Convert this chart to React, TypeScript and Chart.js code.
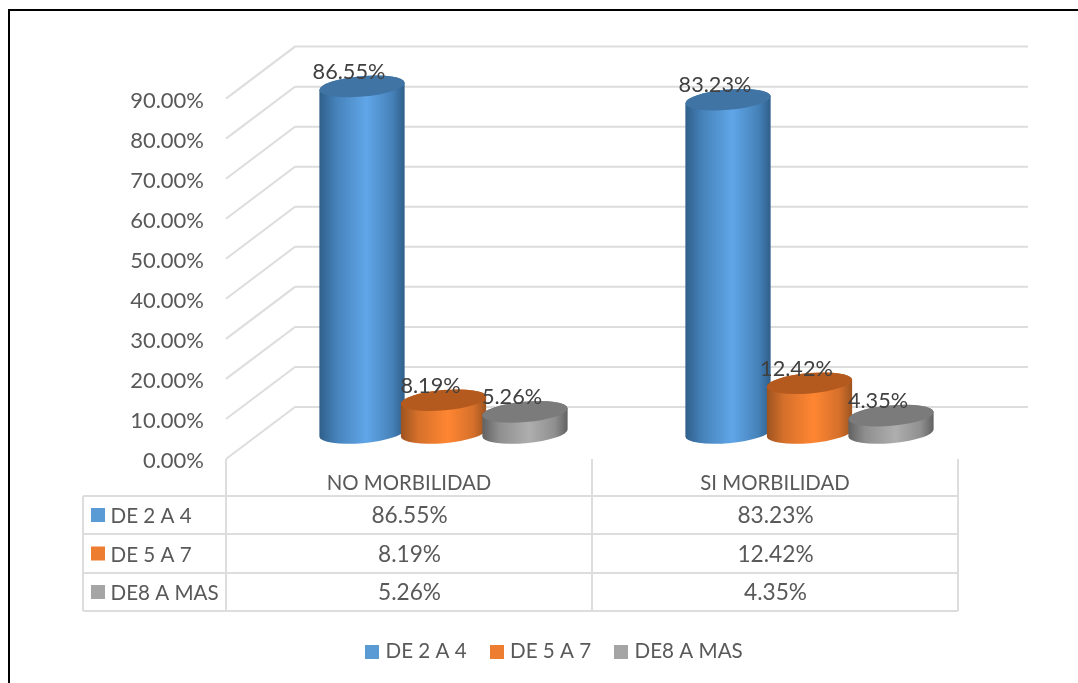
import React, { useEffect, useRef } from "react";
import { Chart, registerables } from "chart.js";

Chart.register(...registerables);

const categories = ["NO MORBILIDAD", "SI MORBILIDAD"];
const seriesNames = ["DE 2 A 4", "DE 5 A 7", "DE8 A MAS"];
const deDosACuatro = [86.55, 83.23];
const deCincoASiete = [8.19, 12.42];
const deOchoAMas = [5.26, 4.35];
const seriesValues = [deDosACuatro, deCincoASiete, deOchoAMas];

const swatchColors = ["#5b9bd5", "#ed7d31", "#a5a5a5"];
const sideEdgeColors = ["#2f5f8a", "#9c5320", "#616161"];
const sideMidColors = ["#4682ba", "#d5702b", "#8f8f8f"];
const sideCenterColors = ["#60a6e8", "#ff8632", "#aeaeae"];
const capColors = ["#4074a4", "#b55a1f", "#7b7b7b"];

const FONT = "Lato, 'Noto Sans', sans-serif";
const GRID = "#dddddd";
const TEXT = "#595959";
const CANVAS_W = 1078;
const CANVAS_H = 683;

// Depth of the pseudo-3D floor: the back wall sits this far from the front plane.
const DEPTH_X = 69;
const DEPTH_Y = -52;
const WALL_RIGHT = 1028;
const CAP_RY = 10.2;
const CAP_TILT = (-5 * Math.PI) / 180;

// Data table under the plot.
const TABLE_LEFT = 83;
const TABLE_ROWS = [496, 534, 573, 611];
const LINE_W = 2;

// Left edge of the box the legend is centred in.
const LEGEND_LEFT = 154;

const pct = (v: number) => v.toFixed(2) + "%";

function swatch(color: string) {
  const c = document.createElement("canvas");
  c.width = 14;
  c.height = 14;
  const g = c.getContext("2d")!;
  g.fillStyle = color;
  g.fillRect(0, 0, 14, 14);
  return c;
}

function drawCylinder(ctx: CanvasRenderingContext2D, el: any, i: number) {
  const x = el.x + DEPTH_X / 2;
  const top = el.y + DEPTH_Y / 2;
  const base = el.base + DEPTH_Y / 2;
  const rx = el.width / 2;
  const grad = ctx.createLinearGradient(x - rx, 0, x + rx, 0);
  grad.addColorStop(0, sideEdgeColors[i]);
  grad.addColorStop(0.2, sideMidColors[i]);
  grad.addColorStop(0.55, sideCenterColors[i]);
  grad.addColorStop(0.85, sideMidColors[i]);
  grad.addColorStop(1, sideEdgeColors[i]);
  ctx.beginPath();
  ctx.ellipse(x, base, rx, CAP_RY, CAP_TILT, 0, Math.PI, false);
  ctx.ellipse(x, top, rx, CAP_RY, CAP_TILT, Math.PI, 2 * Math.PI, false);
  ctx.closePath();
  ctx.fillStyle = grad;
  ctx.fill();
  ctx.beginPath();
  ctx.ellipse(x, top, rx, CAP_RY, CAP_TILT, 0, 2 * Math.PI);
  ctx.fillStyle = capColors[i];
  ctx.fill();
}

const framePlugin = {
  id: "frame",
  beforeDraw(chart: any) {
    const { ctx } = chart;
    ctx.save();
    ctx.fillStyle = "#ffffff";
    ctx.fillRect(0, 0, CANVAS_W, CANVAS_H);
    ctx.strokeStyle = "#000000";
    ctx.lineWidth = 2;
    ctx.beginPath();
    ctx.moveTo(9, CANVAS_H);
    ctx.lineTo(9, 10);
    ctx.lineTo(CANVAS_W, 10);
    ctx.stroke();
    ctx.restore();
  },
};

const legendShiftPlugin = {
  id: "legendShift",
  afterLayout(chart: any) {
    chart.legend.left = LEGEND_LEFT;
  },
};

const wallPlugin = {
  id: "wall",
  beforeDatasetsDraw(chart: any) {
    const { ctx, chartArea, scales } = chart;
    ctx.save();
    ctx.strokeStyle = GRID;
    ctx.lineWidth = LINE_W;
    for (const t of scales.y.ticks) {
      const y = scales.y.getPixelForValue(t.value);
      ctx.beginPath();
      ctx.moveTo(chartArea.left, y);
      ctx.lineTo(chartArea.left + DEPTH_X, y + DEPTH_Y);
      ctx.lineTo(WALL_RIGHT, y + DEPTH_Y);
      ctx.stroke();
    }
    ctx.restore();
  },
};

const dataTablePlugin = {
  id: "dataTable",
  afterDatasetsDraw(chart: any) {
    const { ctx, chartArea, scales } = chart;
    const mid = (chartArea.left + chartArea.right) / 2;
    ctx.save();
    ctx.strokeStyle = GRID;
    ctx.lineWidth = LINE_W;
    ctx.beginPath();
    for (const y of TABLE_ROWS) {
      ctx.moveTo(TABLE_LEFT, y);
      ctx.lineTo(chartArea.right, y);
    }
    ctx.moveTo(TABLE_LEFT, TABLE_ROWS[0]);
    ctx.lineTo(TABLE_LEFT, TABLE_ROWS[3]);
    for (const x of [chartArea.left, mid, chartArea.right]) {
      ctx.moveTo(x, chartArea.bottom);
      ctx.lineTo(x, TABLE_ROWS[3]);
    }
    ctx.stroke();

    ctx.textBaseline = "middle";
    seriesNames.forEach((name, i) => {
      const cy = (TABLE_ROWS[i] + TABLE_ROWS[i + 1]) / 2;
      ctx.fillStyle = swatchColors[i];
      ctx.fillRect(91, cy - 7, 14, 14);
      ctx.fillStyle = TEXT;
      ctx.textAlign = "left";
      ctx.font = `20.6px ${FONT}`;
      ctx.fillText(name, 110.5, cy + 1.5);
      ctx.textAlign = "center";
      ctx.font = `22.7px ${FONT}`;
      categories.forEach((_, c) => {
        ctx.fillText(pct(seriesValues[i][c]), scales.x.getPixelForValue(c) + 0.5, cy + 1);
      });
    });
    ctx.restore();
  },
};

const cylinderPlugin = {
  id: "cylinders",
  // The flat bars are replaced by cylinders drawn from the same bar elements.
  beforeDatasetDraw() {
    return false;
  },
  afterDatasetsDraw(chart: any) {
    const { ctx } = chart;
    ctx.save();
    for (let c = 0; c < categories.length; c++) {
      seriesNames.forEach((_, i) => {
        drawCylinder(ctx, chart.getDatasetMeta(i).data[c], i);
      });
    }
    ctx.font = `21.7px ${FONT}`;
    ctx.fillStyle = "#404040";
    ctx.textAlign = "center";
    ctx.textBaseline = "middle";
    seriesNames.forEach((_, i) => {
      chart.getDatasetMeta(i).data.forEach((el: any, c: number) => {
        ctx.fillText(
          pct(seriesValues[i][c]),
          el.x + DEPTH_X / 2 - 13,
          el.y + DEPTH_Y / 2 - 14.5
        );
      });
    });
    ctx.restore();
  },
};

export default function App() {
  const ref = useRef<HTMLCanvasElement>(null);

  useEffect(() => {
    const swatches = swatchColors.map(swatch);
    const paddingBottom = 11;
    const chart = new Chart(ref.current!, {
      type: "bar",
      data: {
        labels: categories,
        datasets: seriesNames.map((name, i) => ({
          label: name,
          data: seriesValues[i],
          backgroundColor: swatchColors[i],
          categoryPercentage: 0.668,
          barPercentage: 1.05,
        })),
      },
      options: {
        responsive: false,
        animation: false,
        layout: {
          padding: { left: 110, right: 120, top: 98.6, bottom: paddingBottom },
        },
        scales: {
          x: {
            grid: { display: false, drawTicks: false },
            border: { display: false },
            ticks: {
              color: TEXT,
              font: { family: FONT, size: 20.4 },
              padding: 12.5,
              maxRotation: 0,
            },
            afterFit(scale: any) {
              const legendH = scale.chart.legend ? scale.chart.legend.height : 0;
              scale.height = CANVAS_H - paddingBottom - legendH - 459;
            },
          },
          y: {
            min: 0,
            max: 90,
            grid: { display: false, drawTicks: false },
            border: { display: false },
            ticks: {
              stepSize: 10,
              color: TEXT,
              font: { family: FONT, size: 22 },
              padding: 22,
              labelOffset: 2,
              callback: (v: any) => pct(Number(v)),
            },
            afterFit(scale: any) {
              scale.width = 116;
            },
          },
        },
        plugins: {
          tooltip: { enabled: false },
          title: { display: false },
          legend: {
            position: "bottom",
            labels: {
              color: TEXT,
              font: { family: FONT, size: 20.6 },
              usePointStyle: true,
              boxWidth: 6,
              boxHeight: 14,
              padding: 27,
              generateLabels(c: any) {
                return Chart.defaults.plugins.legend.labels
                  .generateLabels(c)
                  .map((item: any, i: number) => ({ ...item, pointStyle: swatches[i] }));
              },
            },
          },
        },
      },
      plugins: [framePlugin, legendShiftPlugin, wallPlugin, cylinderPlugin, dataTablePlugin],
    } as any);
    return () => chart.destroy();
  }, []);

  return (
    <div style={{ position: "fixed", left: 0, top: 0, width: CANVAS_W, height: CANVAS_H }}>
      <canvas ref={ref} width={CANVAS_W} height={CANVAS_H} style={{ display: "block" }} />
    </div>
  );
}
